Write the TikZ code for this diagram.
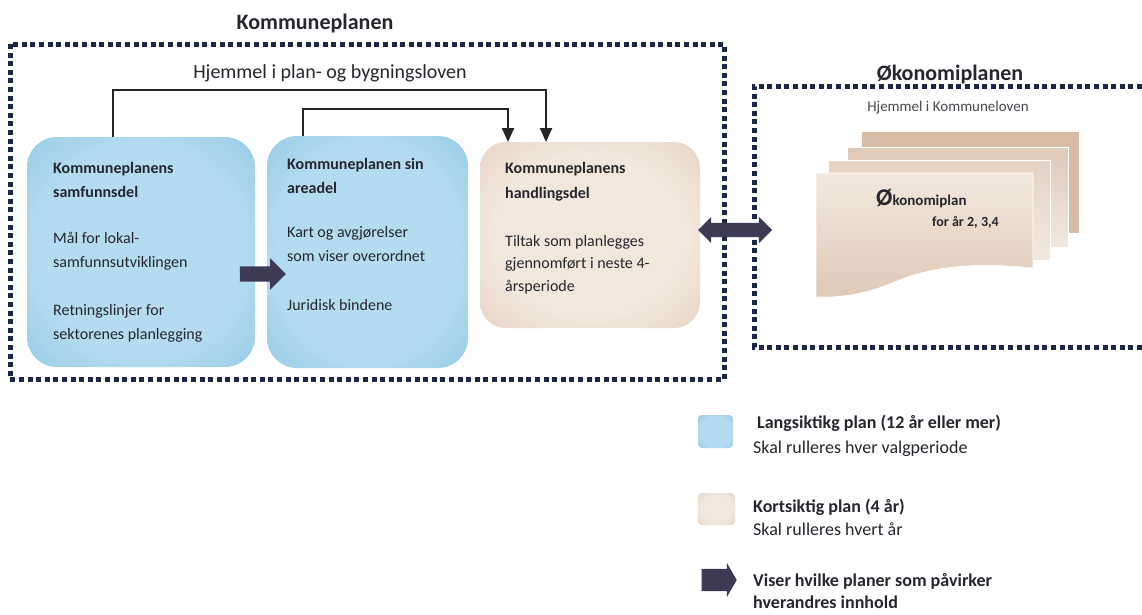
\documentclass[tikz,border=0pt]{standalone}
\usepackage{fontspec}
\setmainfont{Carlito}
\usetikzlibrary{arrows.meta,shapes.arrows}
\definecolor{bIn}{HTML}{B4DCF0}
\definecolor{bOut}{HTML}{78BBDD}
\definecolor{pIn}{HTML}{F2E7DD}
\definecolor{pOut}{HTML}{D8C0AC}
\definecolor{frame}{HTML}{1C2747}
\definecolor{arrowc}{HTML}{3C3A55}
\definecolor{txt}{HTML}{26262E}
\definecolor{sheetA}{HTML}{F2E8DF}
\definecolor{sheetB}{HTML}{DFC9B7}
\definecolor{sheetBack}{HTML}{D6BCA6}
\pgfdeclareradialshading{blueglow}{\pgfpoint{0bp}{0bp}}{color(0bp)=(bIn); color(22bp)=(bIn); color(50bp)=(bOut); color(72bp)=(bOut)}
\pgfdeclareradialshading{beigeglow}{\pgfpoint{0bp}{0bp}}{color(0bp)=(pIn); color(22bp)=(pIn); color(50bp)=(pOut); color(72bp)=(pOut)}
\begin{document}
\begin{tikzpicture}[x=1pt,y=-1pt,
  dotframe/.style={draw=frame, line width=5pt, dash pattern=on 5pt off 3.6pt},
  bluebox/.style={rounded corners=30pt, shading=blueglow, inner sep=0pt, outer sep=0pt},
  beigebox/.style={rounded corners=26pt, shading=beigeglow, inner sep=0pt, outer sep=0pt},
  conn/.style={draw=black!85, line width=2.3pt, -{Triangle[width=12pt,length=14pt]}},
  fatarrow/.style={single arrow, fill=arrowc, inner xsep=0pt, inner ysep=0pt, outer sep=0pt},
  dblarrow/.style={double arrow, fill=arrowc, inner xsep=0pt, inner ysep=0pt, outer sep=0pt},
  boxtitle/.style={anchor=base west, inner sep=0pt, text=txt, font=\fontsize{16}{16}\selectfont\bfseries},
  boxtext/.style={anchor=base west, inner sep=0pt, text=txt, font=\fontsize{16}{16}\selectfont},
  legtitle/.style={anchor=base west, inner sep=0pt, text=txt, font=\fontsize{18}{18}\selectfont\bfseries},
  legtext/.style={anchor=base west, inner sep=0pt, text=txt, font=\fontsize{18}{18}\selectfont},
  sheet/.style={fill=sheetA, draw=white, line width=0.8pt}
]
\useasboundingbox (0,0) rectangle (1142,614);
\fill[white] (0,0) rectangle (1142,614);

% frames
\draw[dotframe] (10,44) rectangle (724,379);
\draw[dotframe] (1142,86) -- (754,86) -- (754,347) -- (1142,347);

% titles
\node[anchor=base, inner sep=0pt, text=txt, font=\fontsize{22}{22}\selectfont\bfseries] (ttl1) at (315,29) {Kommuneplanen};
\node[anchor=base, inner sep=0pt, text=txt, font=\fontsize{20}{20}\selectfont] (hj1) at (330,78) {Hjemmel i plan- og bygningsloven};
\node[anchor=base, inner sep=0pt, text=txt, font=\fontsize{22}{22}\selectfont\bfseries] (ttl2) at (950,80) {Økonomiplanen};
\node[anchor=base, inner sep=0pt, text=txt!85, font=\fontsize{15}{15}\selectfont] (hj2) at (948,111) {Hjemmel i Kommuneloven};

% boxes
\node[bluebox, minimum width=228pt, minimum height=230pt] (b1) at (141,252) {};
\node[bluebox, minimum width=201pt, minimum height=232pt] (b2) at (367.5,252) {};
\node[beigebox, minimum width=220pt, minimum height=186pt] (b3) at (590,235) {};

% box 1 text
\node[boxtitle] (t1a) at (53,173) {Kommuneplanens};
\node[boxtitle] (t1b) at (53,197) {samfunnsdel};
\node[boxtext] (t1c) at (53,243) {Mål for lokal-};
\node[boxtext] (t1d) at (53,267) {samfunnsutviklingen};
\node[boxtext] (t1e) at (53,315) {Retningslinjer for};
\node[boxtext] (t1f) at (53,339) {sektorenes planlegging};

% box 2 text
\node[boxtitle] (t2a) at (287,169) {Kommuneplanen sin};
\node[boxtitle] (t2b) at (287,193) {areadel};
\node[boxtext] (t2c) at (287,237) {Kart og avgjørelser};
\node[boxtext] (t2d) at (287,261) {som viser overordnet};
\node[boxtext] (t2e) at (287,310) {Juridisk bindene};

% box 3 text
\node[boxtitle] (t3a) at (505,173) {Kommuneplanens};
\node[boxtitle] (t3b) at (505,198) {handlingsdel};
\node[boxtext] (t3c) at (505,246) {Tiltak som planlegges};
\node[boxtext] (t3d) at (505,268) {gjennomført i neste 4-};
\node[boxtext] (t3e) at (505,291) {årsperiode};

% connectors
\draw[conn] ([xshift=-28pt]b1.north) -- ++(0,-47) -| ([xshift=-44pt]b3.north);
\draw[conn] ([xshift=-64.5pt]b2.north) -- ++(0,-27) -| ([xshift=-82pt]b3.north);

% fat arrows
\node[fatarrow, text height=7.5pt, text depth=7.5pt, single arrow head extend=8pt, minimum height=46pt] (fa1) at (259,274) {};
\node[dblarrow, text height=7pt, text depth=7pt, double arrow head extend=6pt, minimum height=74pt] (fa2) at (735,230) {};

% economy plan sheets
\fill[sheetBack] (862,132) rectangle (1079,233);
\path[sheet, shade, top color=sheetB, bottom color=sheetA, draw=white] (847,147) rectangle (1068,247);
\path[sheet, shade, top color=sheetB!70!sheetA, bottom color=sheetA, draw=white] (828,160) rectangle (1050,260);
\path[sheet, shade, top color=sheetA, bottom color=sheetB, draw=white] (816,173) -- (1033,173) -- (1033,268)
  .. controls (975,262) and (930,266) .. (890,284)
  .. controls (865,294) and (840,298) .. (816,297) -- cycle;
\node[anchor=base west, inner sep=0pt, text=txt, font=\fontsize{24}{24}\selectfont\bfseries] (ok1) at (876,205) {Ø{\fontsize{15}{15}\selectfont konomiplan}};
\node[anchor=base west, inner sep=0pt, text=txt, font=\fontsize{14}{14}\selectfont\bfseries] (ok2) at (932,226) {for år 2, 3,4};

% legend
\path[rounded corners=4pt, shading=blueglow] (698,415) rectangle (733,448);
\node[legtitle] (l1a) at (757,428) {Langsiktikg plan (12 år eller mer)};
\node[legtext] (l1b) at (753,453) {Skal rulleres hver valgperiode};
\path[rounded corners=4pt, shading=beigeglow] (698,493) rectangle (735,525);
\node[legtitle] (l2a) at (753,512) {Kortsiktig plan (4 år)};
\node[legtext] (l2b) at (753,535) {Skal rulleres hvert år};
\node[fatarrow, text height=11pt, text depth=11pt, single arrow head extend=6pt, single arrow tip angle=120, minimum height=35pt] (la) at (716,580) {};
\node[legtitle] (l3a) at (753,586) {Viser hvilke planer som påvirker};
\node[legtitle] (l3b) at (753,608) {hverandres innhold};
\end{tikzpicture}
\end{document}
